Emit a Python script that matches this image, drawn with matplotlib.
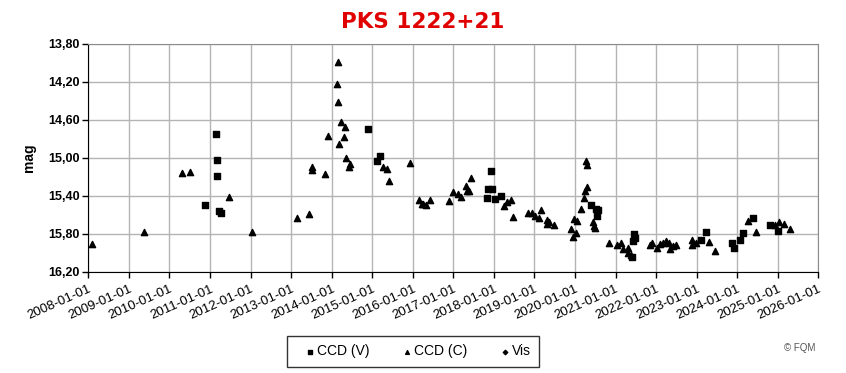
import matplotlib
matplotlib.use("Agg")
import matplotlib.pyplot as plt
import matplotlib.transforms as mtransforms
from matplotlib.ticker import FuncFormatter

plt.rcParams['font.family'] = ['Liberation Sans', 'DejaVu Sans']

# CCD (V) observations: decimal year, magnitude
ccd_v_year = [2010.88, 2011.15, 2011.17, 2011.18, 2011.22, 2011.27,
              2014.90, 2015.12, 2015.18,
              2017.82, 2017.86, 2017.92, 2017.95, 2018.03, 2018.17,
              2020.39, 2020.52, 2020.54, 2020.56,
              2021.40, 2021.44, 2021.45, 2021.48,
              2023.10, 2023.22, 2023.86, 2023.91, 2024.07, 2024.14, 2024.38,
              2024.82, 2025.00]
ccd_v_mag = [15.50, 14.75, 15.02, 15.19, 15.56, 15.58,
             14.70, 15.03, 14.98,
             15.42, 15.33, 15.14, 15.33, 15.43, 15.40,
             15.50, 15.54, 15.61, 15.55,
             16.04, 15.87, 15.80, 15.84,
             15.86, 15.78, 15.90, 15.95, 15.86, 15.79, 15.63,
             15.71, 15.77]

# CCD (C) observations
ccd_c_year = [2008.10, 2009.37, 2010.31, 2010.51, 2011.48, 2012.04,
              2013.14, 2013.44, 2013.52, 2013.52, 2013.84, 2013.91,
              2014.16, 2014.13, 2014.16, 2014.22, 2014.33, 2014.30, 2014.19,
              2014.35, 2014.45, 2014.43,
              2015.27, 2015.36, 2015.41, 2015.94,
              2016.15, 2016.22, 2016.26, 2016.33, 2016.42,
              2016.90, 2017.00, 2017.12, 2017.19, 2017.31, 2017.34, 2017.38, 2017.44,
              2018.25, 2018.33, 2018.42, 2018.47,
              2018.84, 2018.95, 2019.01, 2019.11, 2019.16,
              2019.30, 2019.30, 2019.36, 2019.48,
              2019.90, 2019.95, 2020.02, 2019.98, 2020.06, 2020.16, 2020.22,
              2020.25, 2020.30, 2020.28, 2020.29, 2020.44, 2020.46, 2020.50,
              2020.85, 2021.03, 2021.13, 2021.19, 2021.31, 2021.31, 2021.39,
              2021.85, 2021.91, 2022.01, 2022.10, 2022.16, 2022.24, 2022.31,
              2022.35, 2022.42, 2022.48,
              2022.88, 2022.88, 2022.98, 2023.30, 2023.45,
              2024.27, 2024.47, 2024.93, 2025.03, 2025.16, 2025.31]
ccd_c_mag = [15.91, 15.78, 15.16, 15.15, 15.41, 15.78,
             15.63, 15.59, 15.10, 15.13, 15.17, 14.77,
             13.99, 14.22, 14.41, 14.62, 14.67, 14.78, 14.85,
             15.00, 15.06, 15.10,
             15.10, 15.12, 15.24, 15.05,
             15.44, 15.48, 15.48, 15.50, 15.44,
             15.45, 15.36, 15.38, 15.41, 15.29, 15.35, 15.35, 15.21,
             15.51, 15.46, 15.44, 15.62,
             15.58, 15.58, 15.61, 15.63, 15.55,
             15.65, 15.69, 15.67, 15.71,
             15.75, 15.83, 15.79, 15.64, 15.66, 15.54, 15.42,
             15.35, 15.31, 15.03, 15.07, 15.67, 15.72, 15.74,
             15.90, 15.92, 15.90, 15.96, 15.95, 16.00, 16.02,
             15.92, 15.90, 15.95, 15.91, 15.90, 15.87, 15.89,
             15.96, 15.93, 15.92,
             15.86, 15.92, 15.90, 15.88, 15.98,
             15.66, 15.78, 15.71, 15.67, 15.70, 15.75]

# Vis observations (none in this period)
vis_year = []
vis_mag = []

years = list(range(2008, 2027))
mag_ticks = [13.8, 14.2, 14.6, 15.0, 15.4, 15.8, 16.2]

fig = plt.figure(figsize=(8.46, 3.73), dpi=100)
ax = fig.add_axes([0.1044, 0.2708, 0.8629, 0.6113])

ax.scatter(ccd_v_year, ccd_v_mag, marker='s', s=22, color='black', zorder=3, label='CCD (V)')
ax.scatter(ccd_c_year, ccd_c_mag, marker='^', s=20, color='black', zorder=3, label='CCD (C)')
ax.scatter(vis_year, vis_mag, marker='D', s=14, color='black', zorder=3, label='Vis')

ax.set_xlim(2008, 2026)
ax.set_ylim(16.2, 13.8)
ax.set_xticks(years)
ax.set_xticklabels([f"{y}-01-01" for y in years], rotation=24, ha='right',
                   rotation_mode='anchor', fontsize=9.5)
shift = mtransforms.ScaledTranslation(-7 / 100, -1 / 100, fig.dpi_scale_trans)
for t in ax.get_xticklabels():
    t.set_transform(t.get_transform() + shift)
ax.set_yticks(mag_ticks)
ax.yaxis.set_major_formatter(FuncFormatter(lambda v, p: f"{v:.2f}".replace('.', ',')))
for t in ax.get_yticklabels():
    t.set_fontweight('bold')
    t.set_fontsize(9)
ax.tick_params(axis='x', length=4, width=1, pad=4)
ax.tick_params(axis='y', length=4, width=1, pad=2)

ax.grid(True, color='#b4b4b4', linewidth=1)
ax.set_axisbelow(True)
ax.spines['left'].set_color('black')
ax.spines['bottom'].set_color('black')
ax.spines['top'].set_color('#8c8c8c')
ax.spines['right'].set_color('#8c8c8c')

ax.set_ylabel('mag', fontweight='bold', fontsize=10, labelpad=9)
fig.text(0.5, 0.94, 'PKS 1222+21', color='#e00000', fontsize=15.5,
         fontweight='bold', family='DejaVu Sans', ha='center', va='center')

leg = fig.legend(loc='center', bbox_to_anchor=(0.488, 0.058), ncol=3,
                 frameon=True, fancybox=False, edgecolor='black',
                 fontsize=10, markerscale=0.6, handletextpad=-0.6,
                 columnspacing=1.6, borderpad=0.6, handlelength=2.2)
leg.get_frame().set_linewidth(1)

fig.text(0.945, 0.067, '© FQM', fontsize=7, color='#555555', ha='center', va='center')

fig.savefig('out.png', dpi=100)
